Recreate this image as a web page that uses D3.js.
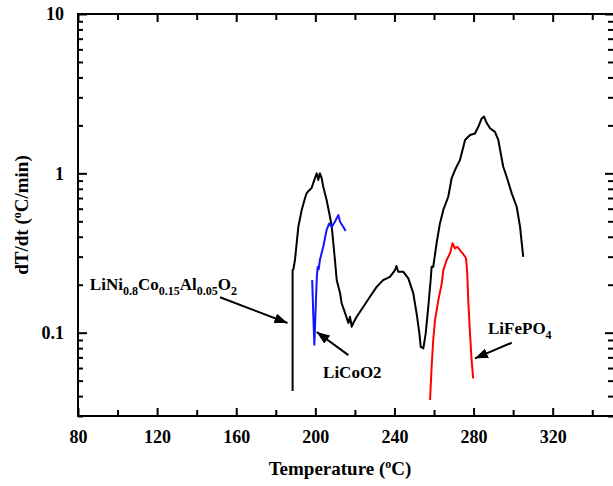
<!DOCTYPE html>
<html>
  <head>
    <title>dT/dt vs Temperature</title>
    <style>
      body {
        margin: 0;
        padding: 0;
        overflow: hidden;
        background: #fff;
      }
      svg {
        display: block;
      }
      text {
        font-family: "Liberation Serif", "Times New Roman", serif;
        font-weight: bold;
        fill: #000;
      }
    </style>
    <script src="https://unpkg.com/d3@7.1.1/dist/d3.min.js"></script>
  </head>
  <body>
    <svg width="613" height="486"></svg>
    <script>
      // Datos: [temperatura ºC, dT/dt ºC/min]
      const nca = [
        [188.5, 0.043], [188.5, 0.12], [188.5, 0.247], [188.9, 0.25], [189.7, 0.286],
        [191.4, 0.462], [193.1, 0.589], [194.8, 0.70], [195.6, 0.752], [196.8, 0.78],
        [198.1, 0.809], [199.8, 0.934], [200.7, 1.0], [201.5, 0.908], [202.3, 1.0],
        [203.2, 0.934], [204.0, 0.824], [205.7, 0.68], [207.4, 0.534], [208.3, 0.462],
        [209.1, 0.365], [209.9, 0.286], [210.8, 0.214], [212.5, 0.177], [213.3, 0.153],
        [215.0, 0.133], [216.7, 0.115], [217.5, 0.126], [218.4, 0.109], [219.2, 0.115],
        [220.9, 0.126], [224.2, 0.145], [227.6, 0.168], [231.0, 0.194], [234.3, 0.214],
        [237.7, 0.224], [240.3, 0.247], [241.0, 0.262], [241.9, 0.241], [244.5, 0.241],
        [247.0, 0.219], [249.5, 0.177], [251.2, 0.132], [252.6, 0.099], [253.3, 0.0815],
        [254.6, 0.0797], [255.8, 0.099], [257.1, 0.145], [258.3, 0.214], [258.8, 0.259],
        [259.6, 0.259], [261.3, 0.364], [263.0, 0.485], [264.7, 0.589], [267.2, 0.713],
        [268.9, 0.931], [270.6, 1.049], [273.1, 1.21], [275.7, 1.62], [278.2, 1.74],
        [280.7, 1.78], [282.4, 1.96], [284.1, 2.21], [285.3, 2.27], [286.3, 2.11],
        [288.3, 1.92], [290.8, 1.82], [292.5, 1.62], [295.0, 1.10], [296.7, 0.953],
        [299.3, 0.749], [301.8, 0.617], [303.5, 0.462], [305.1, 0.299]
      ];

      const licoo2 = [
        [198.4, 0.214], [199.0, 0.125], [199.5, 0.084], [199.9, 0.115], [200.3, 0.16],
        [200.8, 0.23], [201.2, 0.259], [201.7, 0.25], [202.3, 0.286], [204.0, 0.346],
        [205.7, 0.441], [207.0, 0.485], [208.3, 0.462], [209.9, 0.497], [211.6, 0.547],
        [212.5, 0.497], [214.1, 0.462], [215.3, 0.434]
      ];

      const lifepo4 = [
        [258.0, 0.0378], [258.8, 0.0611], [259.6, 0.0899], [260.5, 0.12], [262.2, 0.16],
        [263.9, 0.204], [264.7, 0.247], [266.4, 0.286], [268.1, 0.315], [269.4, 0.364],
        [270.6, 0.338], [271.8, 0.346], [273.1, 0.33], [274.5, 0.315], [276.2, 0.293],
        [276.8, 0.236], [277.3, 0.16], [278.2, 0.099], [279.0, 0.0673], [279.8, 0.0516]
      ];

      const xMajor = [80, 120, 160, 200, 240, 280, 320];
      const xMinor = [100, 140, 180, 220, 260, 300, 340];
      const yMajor = [0.1, 1, 10];

      const svg = d3.select('svg');

      const x = d3.scaleLinear().domain([80, 351]).range([78, 614]);
      const y = d3.scaleLog().domain([0.03, 10]).range([416, 14]);

      // Ticks menores del eje log: 2..9 de cada decada
      const yMinor = [];
      [0.01, 0.1, 1].forEach((dec) => {
        for (let k = 2; k <= 9; k++) {
          const v = dec * k;
          if (v >= 0.03 && v < 10) yMinor.push(v);
        }
      });

      const axisStyle = (g) => {
        g.select('.domain').remove();
        g.selectAll('.tick line').attr('stroke', '#000').attr('stroke-width', 2);
        g.selectAll('.tick text')
          .style('font-size', '18px')
          .style('font-family', '"Liberation Serif", serif')
          .style('font-weight', 'bold');
      };

      // Eje inferior
      svg.append('g')
        .attr('transform', `translate(0,${y.range()[0]})`)
        .call(d3.axisBottom(x).tickValues(xMajor).tickSizeInner(-8).tickPadding(14).tickFormat(d3.format('d')))
        .call(axisStyle);
      svg.append('g')
        .attr('transform', `translate(0,${y.range()[0]})`)
        .call(d3.axisBottom(x).tickValues(xMinor).tickSizeInner(-6).tickFormat(''))
        .call(axisStyle);

      // Eje superior
      svg.append('g')
        .attr('transform', `translate(0,${y.range()[1]})`)
        .call(d3.axisTop(x).tickValues(xMajor).tickSizeInner(-8).tickFormat(''))
        .call(axisStyle);
      svg.append('g')
        .attr('transform', `translate(0,${y.range()[1]})`)
        .call(d3.axisTop(x).tickValues(xMinor).tickSizeInner(-6).tickFormat(''))
        .call(axisStyle);

      // Eje izquierdo
      svg.append('g')
        .attr('transform', `translate(${x.range()[0]},0)`)
        .call(d3.axisLeft(y).tickValues(yMajor).tickSizeInner(-9).tickPadding(14).tickFormat((d) => d3.format('~g')(d)))
        .call(axisStyle);
      svg.append('g')
        .attr('transform', `translate(${x.range()[0]},0)`)
        .call(d3.axisLeft(y).tickValues(yMinor).tickSizeInner(-5).tickFormat(''))
        .call(axisStyle);

      // Eje derecho (queda al borde de la imagen)
      svg.append('g')
        .attr('transform', `translate(${x.range()[1]},0)`)
        .call(d3.axisRight(y).tickValues(yMajor).tickSizeInner(-9).tickFormat(''))
        .call(axisStyle);
      svg.append('g')
        .attr('transform', `translate(${x.range()[1]},0)`)
        .call(d3.axisRight(y).tickValues(yMinor).tickSizeInner(-6).tickFormat(''))
        .call(axisStyle);

      // Marco
      svg.append('rect')
        .attr('x', x.range()[0])
        .attr('y', y.range()[1])
        .attr('width', x.range()[1] - x.range()[0])
        .attr('height', y.range()[0] - y.range()[1])
        .attr('fill', 'none')
        .attr('stroke', '#000')
        .attr('stroke-width', 2);

      // Curvas
      const line = d3.line().x((d) => x(d[0])).y((d) => y(d[1]));
      const series = [
        { data: nca, color: '#000000' },
        { data: licoo2, color: '#1414ff' },
        { data: lifepo4, color: '#ff0000' }
      ];
      svg.selectAll('path.serie')
        .data(series)
        .enter()
        .append('path')
        .attr('class', 'serie')
        .attr('d', (d) => line(d.data))
        .attr('fill', 'none')
        .attr('stroke', (d) => d.color)
        .attr('stroke-width', 2)
        .attr('stroke-linejoin', 'round');

      // Flechas
      svg.append('defs').append('marker')
        .attr('id', 'head')
        .attr('markerUnits', 'userSpaceOnUse')
        .attr('markerWidth', 14)
        .attr('markerHeight', 10)
        .attr('refX', 13)
        .attr('refY', 5)
        .attr('orient', 'auto')
        .append('path')
        .attr('d', 'M0,0 L13,5 L0,10 Z')
        .attr('fill', '#000');

      const arrows = [
        { from: [151.8, 0.167], to: [185.9, 0.115] },
        { from: [216.7, 0.0723], to: [200.7, 0.101] },
        { from: [299.3, 0.0865], to: [280.7, 0.069] }
      ];
      svg.selectAll('line.flecha')
        .data(arrows)
        .enter()
        .append('line')
        .attr('class', 'flecha')
        .attr('x1', (d) => x(d.from[0]))
        .attr('y1', (d) => y(d.from[1]))
        .attr('x2', (d) => x(d.to[0]))
        .attr('y2', (d) => y(d.to[1]))
        .attr('stroke', '#000')
        .attr('stroke-width', 2)
        .attr('marker-end', 'url(#head)');

      // Etiquetas con subindices
      const labels = [
        { at: [86.0, 0.185], parts: [['LiNi', 0], ['0.8', 1], ['Co', 0], ['0.15', 1], ['Al', 0], ['0.05', 1], ['O', 0], ['2', 1]] },
        { at: [203.9, 0.0519], parts: [['LiCoO2', 0]] },
        { at: [287.3, 0.098], parts: [['LiFePO', 0], ['4', 1]] }
      ];
      labels.forEach((lab) => {
        const t = svg.append('text')
          .attr('x', x(lab.at[0]))
          .attr('y', y(lab.at[1]))
          .style('font-size', '17px');
        let shifted = false;
        lab.parts.forEach(([s, sub]) => {
          const ts = t.append('tspan').text(s);
          if (sub && !shifted) { ts.attr('dy', 5).style('font-size', '12px'); shifted = true; }
          else if (sub) { ts.style('font-size', '12px'); }
          else if (shifted) { ts.attr('dy', -5); shifted = false; }
        });
      });

      // Titulos de ejes
      const xt = svg.append('text')
        .attr('x', 340)
        .attr('y', 475)
        .attr('text-anchor', 'middle')
        .style('font-size', '19px');
      xt.append('tspan').text('Temperature (');
      xt.append('tspan').text('o').attr('dy', -7).style('font-size', '12px');
      xt.append('tspan').text('C)').attr('dy', 7);

      const yt = svg.append('text')
        .attr('transform', `translate(28,${(y.range()[0] + y.range()[1]) / 2}) rotate(-90)`)
        .attr('text-anchor', 'middle')
        .style('font-size', '19px');
      yt.append('tspan').text('dT/dt (');
      yt.append('tspan').text('o').attr('dy', -7).style('font-size', '12px');
      yt.append('tspan').text('C/min)').attr('dy', 7);
    </script>
  </body>
</html>
